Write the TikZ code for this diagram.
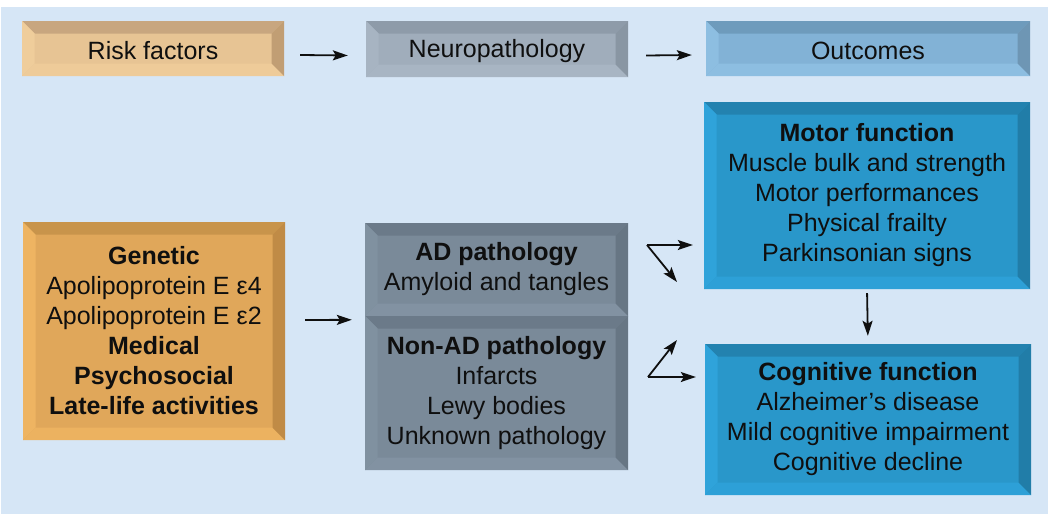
\documentclass[tikz,border=0pt]{standalone}
\usepackage{fontspec}
\setmainfont{Liberation Sans}
\usetikzlibrary{arrows.meta}
% palettes: F face, T top, R right, B bottom, L left
\definecolor{bgc}{RGB}{214,230,246}
\definecolor{rfF}{RGB}{231,196,148}\definecolor{rfT}{RGB}{200,166,127}\definecolor{rfR}{RGB}{193,158,116}\definecolor{rfB}{RGB}{238,203,153}\definecolor{rfL}{RGB}{239,205,155}
\definecolor{npF}{RGB}{160,173,187}\definecolor{npT}{RGB}{142,155,169}\definecolor{npR}{RGB}{137,150,163}\definecolor{npB}{RGB}{168,181,195}\definecolor{npL}{RGB}{167,180,194}
\definecolor{ocF}{RGB}{130,178,214}\definecolor{ocT}{RGB}{110,155,188}\definecolor{ocR}{RGB}{110,150,180}\definecolor{ocB}{RGB}{141,190,225}\definecolor{ocL}{RGB}{141,190,225}
\definecolor{blF}{RGB}{41,151,202}\definecolor{blT}{RGB}{35,130,175}\definecolor{blR}{RGB}{33,125,168}\definecolor{blB}{RGB}{45,160,215}\definecolor{blL}{RGB}{47,163,218}
\definecolor{geF}{RGB}{224,167,90}\definecolor{geT}{RGB}{200,148,75}\definecolor{geR}{RGB}{192,139,70}\definecolor{geB}{RGB}{236,178,96}\definecolor{geL}{RGB}{238,180,98}
\definecolor{gyF}{RGB}{122,138,153}\definecolor{gyT}{RGB}{107,122,137}\definecolor{gyR}{RGB}{103,118,132}\definecolor{gyB}{RGB}{130,146,162}\definecolor{gyL}{RGB}{128,145,160}
\definecolor{ink}{RGB}{15,15,15}
\newcommand{\bevbox}[7]{%
  \fill[#2F] (#3,#4) rectangle (#5,#6);
  \fill[#2T] (#3,#4) -- (#5,#4) -- ({#5-12.5},{#4+12.5}) -- ({#3+12.5},{#4+12.5}) -- cycle;
  \fill[#2L] (#3,#4) -- ({#3+12.5},{#4+12.5}) -- ({#3+12.5},{#6-12.5}) -- (#3,#6) -- cycle;
  \fill[#2B] (#3,#6) -- ({#3+12.5},{#6-12.5}) -- ({#5-12.5},{#6-12.5}) -- (#5,#6) -- cycle;
  \fill[#2R] (#5,#4) -- (#5,#6) -- ({#5-12.5},{#6-12.5}) -- ({#5-12.5},{#4+12.5}) -- cycle;
  \node[txt, minimum width={#5-#3}, minimum height={#6-#4}] (#1) at ({(#3+#5)/2},{(#4+#6)/2}) {#7};
}
\newcommand{\lowered}[1]{\raisebox{-2.5pt}[\height][\depth]{#1}}
\begin{document}
\begin{tikzpicture}[x=1pt,y=-1pt,
  txt/.style={align=center, inner sep=0pt, text=ink, font=\fontsize{25}{30}\selectfont},
  arr/.style={draw=ink, line width=1.8pt, -{Stealth[length=15pt,width=10pt,inset=3pt]}}]
\useasboundingbox (0,0) rectangle (1050,522);
\fill[bgc] (1,7) rectangle (1048,514);
% top row
\bevbox{risk}{rf}{22}{21}{284}{76}{\lowered{Risk factors}}
\bevbox{neuro}{np}{366}{21}{628}{77}{\lowered{Neuropathology}}
\bevbox{outc}{oc}{706}{21}{1030}{76}{\lowered{Outcomes}}
% boxes
\bevbox{gen}{ge}{23}{222}{285}{440}{\textbf{Genetic}\\Apolipoprotein E ε4\\Apolipoprotein E ε2\\\textbf{Medical}\\\textbf{Psychosocial}\\\textbf{Late-life activities}}
\bevbox{ad}{gy}{365}{223}{628}{316}{\textbf{AD pathology}\\Amyloid and tangles}
\bevbox{nonad}{gy}{365}{316}{628}{470}{\textbf{Non-AD pathology}\\Infarcts\\Lewy bodies\\Unknown pathology}
\bevbox{motor}{bl}{704}{102}{1030}{289}{\textbf{Motor function}\\Muscle bulk and strength\\Motor performances\\Physical frailty\\Parkinsonian signs}
\bevbox{cog}{bl}{705}{344}{1031}{495}{\textbf{Cognitive function}\\Alzheimer’s disease\\Mild cognitive impairment\\Cognitive decline}
% connectors
\draw[arr] ([xshift=16pt,yshift=-6.5pt]risk.east) -- ([xshift=-18pt,yshift=-6.5pt]neuro.west);
\draw[arr] ([xshift=18pt,yshift=-6.5pt]neuro.east) -- ([xshift=-14pt,yshift=-6.5pt]outc.west);
\draw[arr] ([xshift=20pt,yshift=11pt]gen.east) -- ([xshift=-13pt,yshift=-4pt]nonad.north west);
\coordinate (f1) at (647,245);
\coordinate (d1) at (677,282);
\coordinate (f2) at (648,377);
\coordinate (d2) at (677,340);
\draw[arr, shorten >=11pt] (f1) -- (f1 -| motor.west);
\draw[arr] (f1) -- (d1);
\draw[arr, shorten >=9pt] (f2) -- (f2 -| cog.west);
\draw[arr] (f2) -- (d2);
\draw[arr, shorten <=4pt, shorten >=8pt] (motor.south) -- (cog.north);
\end{tikzpicture}
\end{document}
